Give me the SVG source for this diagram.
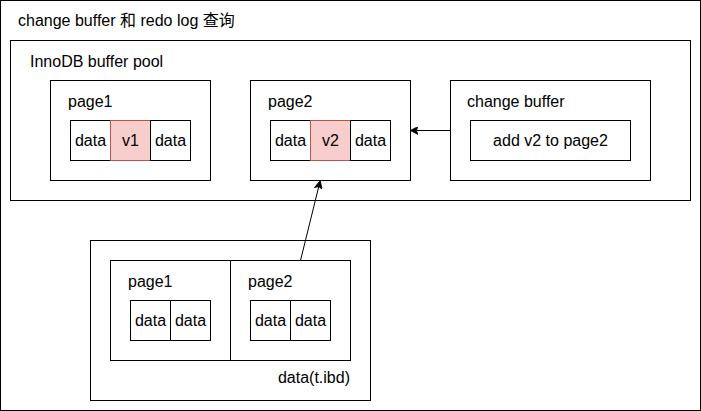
<svg xmlns="http://www.w3.org/2000/svg" width="701" height="411" viewBox="0 0 701 411">
<style>
.b{fill:#ffffff;stroke:#000000;stroke-width:1}
.r{fill:#f8cecc;stroke:#b85450;stroke-width:1}
text{font-family:"Liberation Sans",Arial,"Noto Sans CJK SC",sans-serif;font-size:16px;fill:#000000}
.c{text-anchor:middle;dominant-baseline:central}
.e{fill:none;stroke:#000000;stroke-width:1}
</style>
<defs>
<marker id="arr" viewBox="0 0 10 10" refX="9" refY="5" markerWidth="8" markerHeight="8" markerUnits="userSpaceOnUse" orient="auto">
<path d="M0,0 L10,5 L0,10 L2.5,5 Z" fill="#000000" stroke="#000000" stroke-width="1"/>
</marker>
</defs>
<g id="outer">
<rect class="b" x="0.5" y="0.5" width="700" height="410"/>
<text x="18" y="26">change buffer 和 redo log 查询</text>
</g>
<g id="bufferpool">
<rect class="b" x="10.5" y="40.5" width="680" height="160"/>
<text x="30" y="67">InnoDB buffer pool</text>
</g>
<g id="page1">
<rect class="b" x="50.5" y="80.5" width="160" height="100"/>
<text x="68" y="107">page1</text>
<rect class="b" x="70.5" y="120.5" width="40" height="40"/>
<text class="c" x="90.5" y="140.5">data</text>
<rect class="r" x="110.5" y="120.5" width="40" height="40"/>
<text class="c" x="130.5" y="140.5">v1</text>
<rect class="b" x="150.5" y="120.5" width="40" height="40"/>
<text class="c" x="170.5" y="140.5">data</text>
</g>
<g id="page2">
<rect class="b" x="250.5" y="80.5" width="160" height="100"/>
<text x="268" y="107">page2</text>
<rect class="b" x="270.5" y="120.5" width="40" height="40"/>
<text class="c" x="290.5" y="140.5">data</text>
<rect class="r" x="310.5" y="120.5" width="40" height="40"/>
<text class="c" x="330.5" y="140.5">v2</text>
<rect class="b" x="350.5" y="120.5" width="40" height="40"/>
<text class="c" x="370.5" y="140.5">data</text>
</g>
<g id="changebuffer">
<rect class="b" x="450.5" y="80.5" width="200" height="100"/>
<text x="467" y="107">change buffer</text>
<rect class="b" x="470.5" y="120.5" width="160" height="40"/>
<text class="c" x="550.5" y="140.5">add v2 to page2</text>
</g>
<g id="ibd">
<rect class="b" x="90.5" y="240.5" width="280" height="160"/>
<rect class="b" x="110.5" y="260.5" width="240" height="100"/>
<line class="e" x1="230.5" y1="260.5" x2="230.5" y2="360.5"/>
<text x="128" y="287">page1</text>
<rect class="b" x="130.5" y="300.5" width="40" height="40"/>
<text class="c" x="150.5" y="320.5">data</text>
<rect class="b" x="170.5" y="300.5" width="40" height="40"/>
<text class="c" x="190.5" y="320.5">data</text>
<text x="248" y="287">page2</text>
<rect class="b" x="250.5" y="300.5" width="40" height="40"/>
<text class="c" x="270.5" y="320.5">data</text>
<rect class="b" x="290.5" y="300.5" width="40" height="40"/>
<text class="c" x="310.5" y="320.5">data</text>
<text x="350" y="383" text-anchor="end">data(t.ibd)</text>
</g>
<g id="connectors">
<line class="e" x1="450.5" y1="130.5" x2="411" y2="130.5" marker-end="url(#arr)"/>
<line class="e" x1="300.5" y1="260.5" x2="320" y2="181.5" marker-end="url(#arr)"/>
</g>
</svg>
